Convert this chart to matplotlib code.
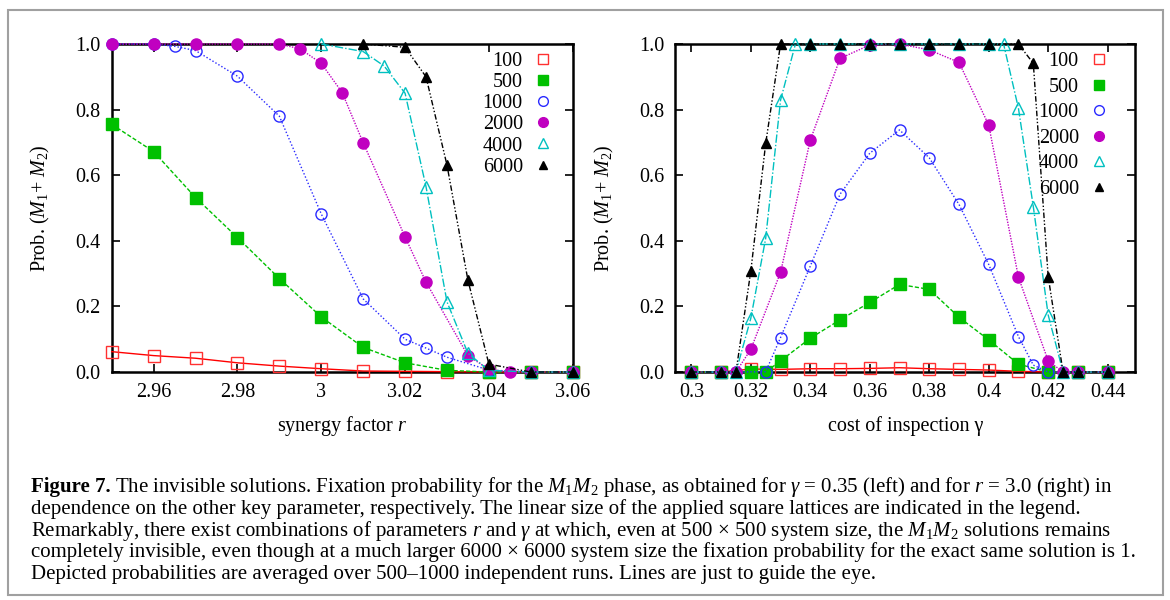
import matplotlib
matplotlib.use("Agg")
import matplotlib.pyplot as plt
from matplotlib.lines import Line2D
from matplotlib.patches import Rectangle

plt.rcParams['font.family'] = ['Liberation Serif', 'DejaVu Serif']
plt.rcParams['mathtext.fontset'] = 'custom'
plt.rcParams['mathtext.rm'] = 'Liberation Serif'
plt.rcParams['mathtext.it'] = 'Liberation Serif:italic'
plt.rcParams['mathtext.bf'] = 'Liberation Serif:bold'

# ---------------- data: left panel (synergy factor r) ----------------
labels = ["100", "500", "1000", "2000", "4000", "6000"]

r_100 = [2.95, 2.96, 2.97, 2.98, 2.99, 3.00, 3.01, 3.02, 3.03, 3.04, 3.05, 3.06]
pr_100 = [0.062, 0.050, 0.042, 0.028, 0.018, 0.010, 0.003, 0.002, 0.001, 0, 0, 0]
r_500 = [2.95, 2.96, 2.97, 2.98, 2.99, 3.00, 3.01, 3.02, 3.03, 3.04, 3.05, 3.06]
pr_500 = [0.755, 0.672, 0.532, 0.410, 0.285, 0.168, 0.075, 0.028, 0.005, 0, 0, 0]
r_1000 = [2.95, 2.96, 2.965, 2.97, 2.98, 2.99, 3.00, 3.01, 3.02, 3.025, 3.03, 3.04, 3.05, 3.06]
pr_1000 = [1.0, 1.0, 0.993, 0.980, 0.902, 0.780, 0.482, 0.223, 0.100, 0.073, 0.045, 0.006, 0, 0]
r_2000 = [2.95, 2.96, 2.97, 2.98, 2.99, 2.995, 3.00, 3.005, 3.01, 3.02, 3.025, 3.035, 3.04, 3.045, 3.05, 3.06]
pr_2000 = [1, 1, 1, 1, 1, 0.985, 0.941, 0.852, 0.699, 0.412, 0.274, 0.050, 0.008, 0, 0, 0]
r_4000 = [3.00, 3.01, 3.015, 3.02, 3.025, 3.03, 3.035, 3.04, 3.05, 3.06]
pr_4000 = [1.0, 0.977, 0.933, 0.850, 0.565, 0.214, 0.057, 0.005, 0, 0]
r_6000 = [3.01, 3.02, 3.025, 3.03, 3.035, 3.04, 3.05, 3.06]
pr_6000 = [1.0, 0.990, 0.900, 0.631, 0.280, 0.024, 0, 0]

# ---------------- data: right panel (cost of inspection gamma) ----------------
g_100 = [0.30, 0.31, 0.32, 0.33, 0.34, 0.35, 0.36, 0.37, 0.38, 0.39, 0.40, 0.41, 0.42, 0.43, 0.44]
pg_100 = [0, 0, 0.009, 0.008, 0.010, 0.010, 0.011, 0.013, 0.010, 0.008, 0.006, 0.002, 0, 0, 0]
g_500 = [0.30, 0.31, 0.32, 0.325, 0.33, 0.34, 0.35, 0.36, 0.37, 0.38, 0.39, 0.40, 0.41, 0.42, 0.43, 0.44]
pg_500 = [0, 0, 0, 0, 0.034, 0.103, 0.159, 0.212, 0.267, 0.252, 0.167, 0.098, 0.024, 0, 0, 0]
g_1000 = [0.30, 0.31, 0.315, 0.325, 0.33, 0.34, 0.35, 0.36, 0.37, 0.38, 0.39, 0.40, 0.41, 0.415, 0.42, 0.43, 0.44]
pg_1000 = [0, 0, 0, 0.001, 0.105, 0.323, 0.542, 0.667, 0.738, 0.653, 0.511, 0.328, 0.108, 0.021, 0, 0, 0]
g_2000 = [0.30, 0.31, 0.315, 0.32, 0.33, 0.34, 0.35, 0.36, 0.37, 0.38, 0.39, 0.40, 0.41, 0.42, 0.425, 0.43, 0.44]
pg_2000 = [0, 0, 0, 0.069, 0.304, 0.707, 0.956, 0.997, 1.0, 0.982, 0.944, 0.753, 0.289, 0.034, 0, 0, 0]
g_4000 = [0.30, 0.31, 0.315, 0.32, 0.325, 0.33, 0.335, 0.34, 0.35, 0.36, 0.37, 0.38, 0.39, 0.40, 0.405,
          0.41, 0.415, 0.42, 0.425, 0.43, 0.44]
pg_4000 = [0, 0, 0, 0.164, 0.408, 0.829, 1, 1, 1, 1, 1, 1, 1, 1, 1, 0.804, 0.504, 0.174, 0, 0, 0]
g_6000 = [0.30, 0.31, 0.315, 0.32, 0.325, 0.33, 0.34, 0.35, 0.36, 0.37, 0.38, 0.39, 0.40, 0.41, 0.415,
          0.42, 0.425, 0.43, 0.44]
pg_6000 = [0, 0, 0, 0.308, 0.697, 1, 1, 1, 1, 1, 1, 1, 1, 1, 0.941, 0.291, 0, 0, 0]

r_ticks = [2.96, 2.98, 3.00, 3.02, 3.04, 3.06]
r_ticklabels = ["2.96", "2.98", "3", "3.02", "3.04", "3.06"]
g_ticks = [0.30, 0.32, 0.34, 0.36, 0.38, 0.40, 0.42, 0.44]
g_ticklabels = ["0.3", "0.32", "0.34", "0.36", "0.38", "0.4", "0.42", "0.44"]
p_ticks = [0.0, 0.2, 0.4, 0.6, 0.8, 1.0]
p_ticklabels = ["0.0", "0.2", "0.4", "0.6", "0.8", "1.0"]

# ---------------- styles ----------------
styles = [
    dict(color="#ff0000", ls="-", marker="s", mfc="none", mec="#ff3030", ms=8),
    dict(color="#00c000", ls=(0, (3, 1.5)), marker="s", mfc="#00c000", mec="#00c000", ms=8),
    dict(color="#2a2aff", ls=(0, (1, 1.5)), marker="o", mfc="none", mec="#2a2aff", ms=8),
    dict(color="#c000c0", ls=(0, (1, 1)), marker="o", mfc="#c000c0", mec="#c000c0", ms=8),
    dict(color="#00c0c0", ls=(0, (6, 1.5, 1, 1.5)), marker="^", mfc="none", mec="#00c0c0", ms=8),
    dict(color="#000000", ls=(0, (4, 1.5, 1, 1.5, 1, 1.5)), marker="^", mfc="#000000", mec="#000000", ms=7),
]

FS = 14.5
fig = plt.figure(figsize=(11.7, 6.0), dpi=100)
W, H = 1170.0, 600.0

axL = fig.add_axes([111.7 / W, 1 - 372 / H, 461 / W, 328 / H])
axR = fig.add_axes([675.3 / W, 1 - 372 / H, 460 / W, 328 / H])

left_series = [(r_100, pr_100), (r_500, pr_500), (r_1000, pr_1000),
               (r_2000, pr_2000), (r_4000, pr_4000), (r_6000, pr_6000)]
right_series = [(g_100, pg_100), (g_500, pg_500), (g_1000, pg_1000),
                (g_2000, pg_2000), (g_4000, pg_4000), (g_6000, pg_6000)]


def setup(ax, series, xlim, xticks, xticklabels, xlabel, leg_anchor, leg_spacing):
    for (x, y), st in zip(series, styles):
        ax.plot(x, y, color=st["color"], ls=st["ls"], lw=1.0, marker=st["marker"],
                mfc=st["mfc"], mec=st["mec"], ms=st["ms"], mew=1.0, clip_on=False, zorder=3)
    ax.set_xlim(*xlim)
    ax.set_ylim(0, 1.0)
    ax.set_xticks(xticks)
    ax.set_xticklabels(xticklabels)
    ax.set_yticks(p_ticks)
    ax.set_yticklabels(p_ticklabels)
    ax.tick_params(direction="in", length=6, width=1.2, top=True, right=True,
                   labelsize=FS, pad=8)
    for s in ax.spines.values():
        s.set_linewidth(1.8)
        s.set_zorder(2)
    ax.set_xlabel(xlabel, fontsize=FS)
    ax.xaxis.set_label_coords(0.5, (372 - 426) / 328.0)
    ax.xaxis.label.set_va("center")
    ax.set_ylabel(r"Prob. $(M_1$+ $M_2)$", fontsize=FS)
    ax.yaxis.label.set_va("center")
    handles = [Line2D([], [], ls="none", marker=st["marker"], mfc=st["mfc"], mec=st["mec"],
                      ms=st["ms"] - 1, mew=1.0) for st in styles]
    ax.legend(handles, labels, loc="upper right", bbox_to_anchor=leg_anchor,
              frameon=False, markerfirst=False, fontsize=FS, handlelength=1.0,
              handletextpad=0.5, labelspacing=leg_spacing, borderpad=0, borderaxespad=0)


setup(axL, left_series, (2.95, 3.06), r_ticks, r_ticklabels, r"synergy factor $r$",
      ((553 - 111.7) / 461, (372 - 52) / 328.0), 0.1)
axL.yaxis.set_label_coords((40 - 111.7) / 461, 0.5)
setup(axR, right_series, (0.2946, 0.4493), g_ticks, g_ticklabels, "cost of inspection γ",
      ((1109 - 675.3) / 460, (372 - 52) / 328.0), 0.32)
axR.yaxis.set_label_coords((604 - 675.3) / 460, 0.5)

# ---------------- caption ----------------
cap_fs = 15.0
cap_first = r"The invisible solutions. Fixation probability for the $M_1M_2$ phase, as obtained for $\gamma$ = 0.35 (left) and for $r$ = 3.0 (right) in"
cap_lines = [
    "dependence on the other key parameter, respectively. The linear size of the applied square lattices are indicated in the legend.",
    r"Remarkably, there exist combinations of parameters $r$ and $\gamma$ at which, even at 500 × 500 system size, the $M_1M_2$ solutions remains",
    "completely invisible, even though at a much larger 6000 × 6000 system size the fixation probability for the exact same solution is 1.",
    "Depicted probabilities are averaged over 500–1000 independent runs. Lines are just to guide the eye.",
]
cap_y = [487, 509, 531, 552, 574]

bold = fig.text(31 / W, 1 - cap_y[0] / H, "Figure 7.", fontsize=cap_fs, fontweight="bold",
                ha="left", va="center")
fig.canvas.draw()
bb = bold.get_window_extent(renderer=fig.canvas.get_renderer())
fig.text((bb.x1 + 4) / W, 1 - cap_y[0] / H, cap_first, fontsize=cap_fs, ha="left", va="center")
for txt, y in zip(cap_lines, cap_y[1:]):
    fig.text(31 / W, 1 - y / H, txt, fontsize=cap_fs, ha="left", va="center")

# outer frame
fig.patches.append(Rectangle((8 / W, 1 - 595 / H), (1163 - 8) / W, (595 - 10) / H,
                             transform=fig.transFigure, fill=False, ec="#a0a0a0", lw=1.5))

fig.savefig("out.png", dpi=100)
